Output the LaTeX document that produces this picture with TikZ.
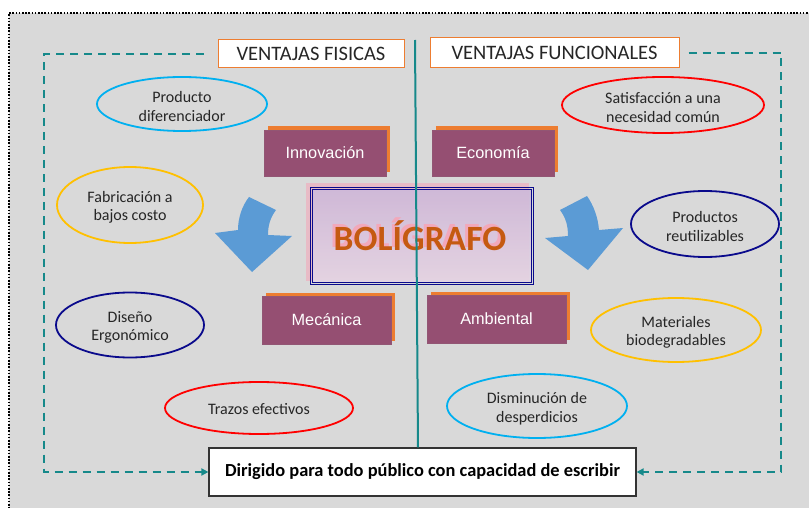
\documentclass[tikz,border=0pt]{standalone}
\usepackage{fontspec}
\setmainfont{Carlito}
\newfontfamily\arialf{Liberation Sans}
\usetikzlibrary{shapes.geometric,shadows,arrows.meta}
\definecolor{bggray}{HTML}{D9D9D9}
\definecolor{tealL}{HTML}{16898A}
\definecolor{cyanE}{HTML}{00B0F0}
\definecolor{goldE}{HTML}{FFC000}
\definecolor{navyE}{HTML}{0A0A8C}
\definecolor{redE}{HTML}{FF0000}
\definecolor{plum}{HTML}{954F72}
\definecolor{shadorg}{HTML}{ED7D31}
\definecolor{arrowblue}{HTML}{5B9BD5}
\definecolor{txtorange}{HTML}{C55A11}
\definecolor{pinkS}{HTML}{F2A8BA}
\definecolor{txtgray}{HTML}{262626}
\definecolor{boxtop}{HTML}{CDB9DA}
\definecolor{boxbot}{HTML}{E4D6E4}
\tikzset{
  oval/.style={ellipse, draw=#1, line width=1.8pt, inner sep=0pt},
  ovaltxt/.style={align=center, inner sep=0pt, text=txtgray, font=\fontsize{16}{18.5}\selectfont},
  plumbox/.style={rectangle, fill=plum, draw=plum!85!gray, line width=0.6pt, text=white,
    font=\arialf\fontsize{16.3}{19}\selectfont, inner sep=0pt,
    general shadow={fill=shadorg, draw=none, shadow xshift=3.5pt, shadow yshift=3.5pt}},
  titlebox/.style={rectangle, fill=white, draw=shadorg, line width=1pt, inner sep=0pt,
    text=txtgray, font=\fontsize{20.5}{24}\selectfont},
  tealdash/.style={draw=tealL, line width=2pt, dash pattern=on 8pt off 6pt},
  bigarrow/.style={fill=arrowblue, draw=none}
}
\begin{document}
\begin{tikzpicture}[x=1pt,y=-1pt]
\useasboundingbox (0,0) rectangle (809,508);
\fill[white] (0,0) rectangle (809,508);
\fill[bggray] (9,13) rectangle (812,512);
\draw[line width=1.6pt, dash pattern=on 1.6pt off 1.6pt] (9,512) -- (9,13) -- (812,13);

% title boxes
\node[titlebox, minimum width=186pt, minimum height=28pt] (fis) at (311,54) {VENTAJAS FISICAS};
\node[titlebox, minimum width=249pt, minimum height=30pt] (fun) at (554.5,53) {VENTAJAS FUNCIONALES};

% bottom box
\node[rectangle, fill=white, draw=black!80, line width=1.2pt, minimum width=427pt, minimum height=48pt,
  inner sep=0pt, font=\bfseries\fontsize{18.4}{21}\selectfont, text=black] (bottom) at (422.5,472)
  {Dirigido para todo público con capacidad de escribir};

% dashed connectors
\coordinate (ls) at ([xshift=-14pt]fis.west);
\coordinate (lc) at (44,54);
\coordinate (rs) at ([xshift=9pt]fun.east);
\coordinate (rc) at (781,53);
\draw[tealdash, -{Triangle[length=7pt,width=7pt]}] (ls) -- (lc) |- (bottom.west);
\draw[tealdash, -{Triangle[length=7pt,width=7pt]}] (rs) -- (rc) |- (bottom.east);

% ellipses
\node[oval=cyanE, minimum width=170pt, minimum height=54pt] (prod) at (182,104) {};
\node[ovaltxt] (prodT) at ([yshift=-2.5pt]prod.center) {Producto\\diferenciador};
\node[oval=goldE, minimum width=146pt, minimum height=76pt] (fab) at (130,205) {};
\node[ovaltxt] (fabT) at ([yshift=-2.5pt]fab.center) {Fabricación a\\bajos costo};
\node[oval=navyE, minimum width=148pt, minimum height=65pt] (dis) at (130,325) {};
\node[ovaltxt] (disT) at ([yshift=-2.5pt]dis.center) {Diseño\\Ergonómico};
\node[oval=redE, minimum width=188pt, minimum height=52pt] (traz) at (259,408) {};
\node[ovaltxt] (trazT) at ([yshift=-1pt]traz.center) {Trazos efectivos};
\node[oval=redE, minimum width=202pt, minimum height=56pt] (sat) at (663,105) {};
\node[ovaltxt] (satT) at ([yshift=-2.5pt]sat.center) {Satisfacción a una\\necesidad común};
\node[oval=navyE, minimum width=148pt, minimum height=66pt] (reu) at (705,224) {};
\node[ovaltxt] (reuT) at ([yshift=-2.5pt]reu.center) {Productos\\reutilizables};
\node[oval=goldE, minimum width=170pt, minimum height=64pt] (mat) at (676,330) {};
\node[ovaltxt] (matT) at ([yshift=-2.5pt]mat.center) {Materiales\\biodegradables};
\node[oval=cyanE, minimum width=180pt, minimum height=64pt] (dism) at (537,406) {};
\node[ovaltxt] (dismT) at ([yshift=-2.5pt]dism.center) {Disminución de\\desperdicios};

% plum boxes
\node[plumbox, minimum width=122pt, minimum height=46pt] (inn) at (325,153) {Innovación};
\node[plumbox, minimum width=122pt, minimum height=46pt] (eco) at (493,153) {Economía};
\node[plumbox, minimum width=129pt, minimum height=48pt] (mec) at (326.5,320) {Mecánica};
\node[plumbox, minimum width=139pt, minimum height=48pt] (amb) at (496.5,319) {Ambiental};

% curved arrows
\path[bigarrow] (249,197) -- (276,210) .. controls (270,218) and (268,226) .. (268,235)
  -- (292,236) -- (252,272) -- (215,233) -- (238,230)
  .. controls (238,218) and (242,206) .. (249,197) -- cycle;
\path[bigarrow] (587,196) -- (560,210) .. controls (566,218) and (568,226) .. (568,236)
  -- (545,238) -- (588,270) -- (623,228) -- (599,230)
  .. controls (598,218) and (594,206) .. (587,196) -- cycle;

% central box
\fill[pinkS, opacity=0.6] (306,183) rectangle (529,281);
\shade[top color=boxtop, bottom color=boxbot, opacity=0.9] (312,190) rectangle (531,282);
\node[rectangle, draw=navyE, line width=1pt, minimum width=223pt, minimum height=96pt,
  inner sep=0pt] (bol) at (421.5,236) {};
\draw[navyE, line width=1pt] ([shift={(2.5pt,-2.5pt)}]bol.north west) rectangle ([shift={(-2.5pt,2.5pt)}]bol.south east);
\node[text=pinkS, font=\bfseries\fontsize{35.5}{40}\selectfont] at (417,233) {BOLÍGRAFO};
\node[text=txtorange, font=\bfseries\fontsize{35.5}{40}\selectfont] (boltxt) at (420,236) {BOLÍGRAFO};

% vertical divider
\coordinate (vtop) at (415,40);
\draw[tealL, line width=2pt] (vtop) -- (bottom.north -| 418,0);
\end{tikzpicture}
\end{document}
